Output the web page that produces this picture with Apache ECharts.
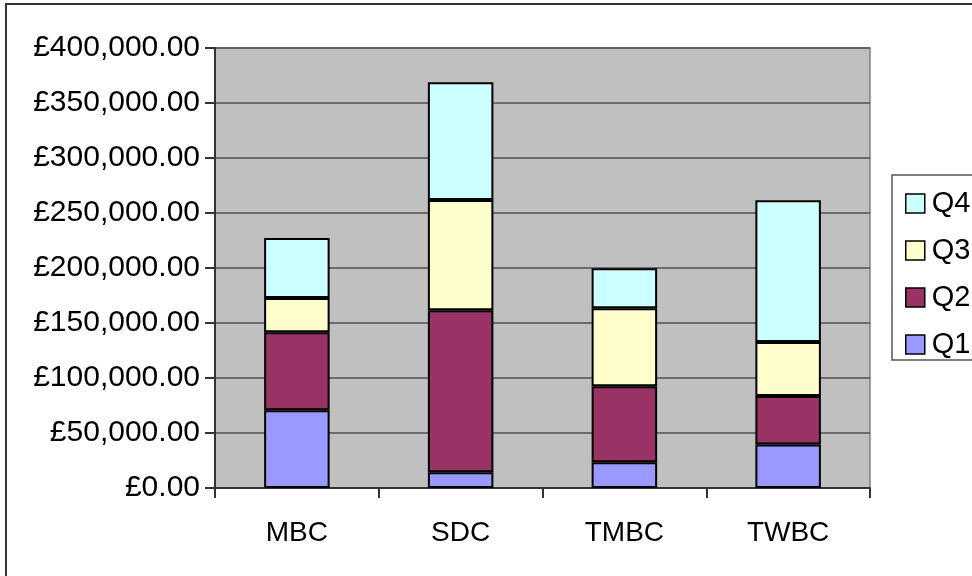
<!DOCTYPE html>
<html>
<head>
<meta charset="utf-8">
<script src="https://cdn.jsdelivr.net/npm/echarts@6/dist/echarts.min.js"></script>
<style>html,body{margin:0;padding:0;background:#fff;}#c{width:972px;height:576px;}</style>
</head>
<body>
<div id="c"></div>
<script>
const categories = ['MBC', 'SDC', 'TMBC', 'TWBC'];
const q1 = [70600, 14300, 23400, 39500];
const q2 = [70900, 147200, 69100, 44100];
const q3 = [31200, 100300, 70900, 49100];
const q4 = [54600, 107000, 36300, 128800];
const seriesNames = ['Q1', 'Q2', 'Q3', 'Q4'];
const seriesColors = ['#9999FF', '#993366', '#FFFFCC', '#CCFFFF'];
const yTicks = { min: 0, max: 400000, interval: 50000 };

const FONT = '"Liberation Sans", Arial, sans-serif';
const chart = echarts.init(document.getElementById('c'), null, { renderer: 'canvas' });

function fmt(v) {
  return '£' + v.toLocaleString('en-GB', { minimumFractionDigits: 2, maximumFractionDigits: 2 });
}

const data = [q1, q2, q3, q4];
chart.setOption({
  animation: false,
  backgroundColor: '#fff',
  textStyle: { fontFamily: FONT },
  graphic: [
    { type: 'rect', shape: { x: 6, y: 4, width: 1100, height: 700 }, style: { fill: 'none', stroke: '#333', lineWidth: 2 }, z: -10 },
    { type: 'rect', shape: { x: 892, y: 175, width: 200, height: 185 }, style: { fill: '#fff', stroke: '#555', lineWidth: 1.5 }, z: 0 }
  ],
  grid: {
    left: 215, right: 102, top: 48, bottom: 88,
    show: true, backgroundColor: '#C0C0C0', borderColor: '#808080', borderWidth: 1.5
  },
  legend: {
    orient: 'vertical', left: 900, top: 184,
    data: ['Q4', 'Q3', 'Q2', 'Q1'],
    itemWidth: 19, itemHeight: 19, itemGap: 18,
    icon: 'rect',
    itemStyle: { borderColor: '#000', borderWidth: 1.5 },
    textStyle: { fontFamily: FONT, fontSize: 29, color: '#000', lineHeight: 28, padding: [0, 0, 0, 2] },
    z: 5
  },
  xAxis: {
    type: 'category', data: categories,
    axisLine: { lineStyle: { color: '#333', width: 2 } },
    axisTick: { show: true, length: 10, alignWithLabel: false, lineStyle: { color: '#333', width: 2 } },
    axisLabel: { fontFamily: FONT, fontSize: 28, color: '#000', margin: 31 },
    splitLine: { show: false }
  },
  yAxis: {
    type: 'value', min: yTicks.min, max: yTicks.max, interval: yTicks.interval,
    axisLine: { show: true, lineStyle: { color: '#333', width: 2 } },
    axisTick: { show: true, length: 10, lineStyle: { color: '#333', width: 2 } },
    axisLabel: { fontFamily: FONT, fontSize: 30, color: '#000', margin: 15, formatter: fmt },
    splitLine: { show: true, lineStyle: { color: '#505050', width: 1.5 } }
  },
  series: seriesNames.map((n, i) => ({
    name: n, type: 'bar', stack: 'total', data: data[i],
    barWidth: '40%',
    itemStyle: { color: seriesColors[i], borderColor: '#000', borderWidth: 2 }
  }))
});
</script>
</body>
</html>
